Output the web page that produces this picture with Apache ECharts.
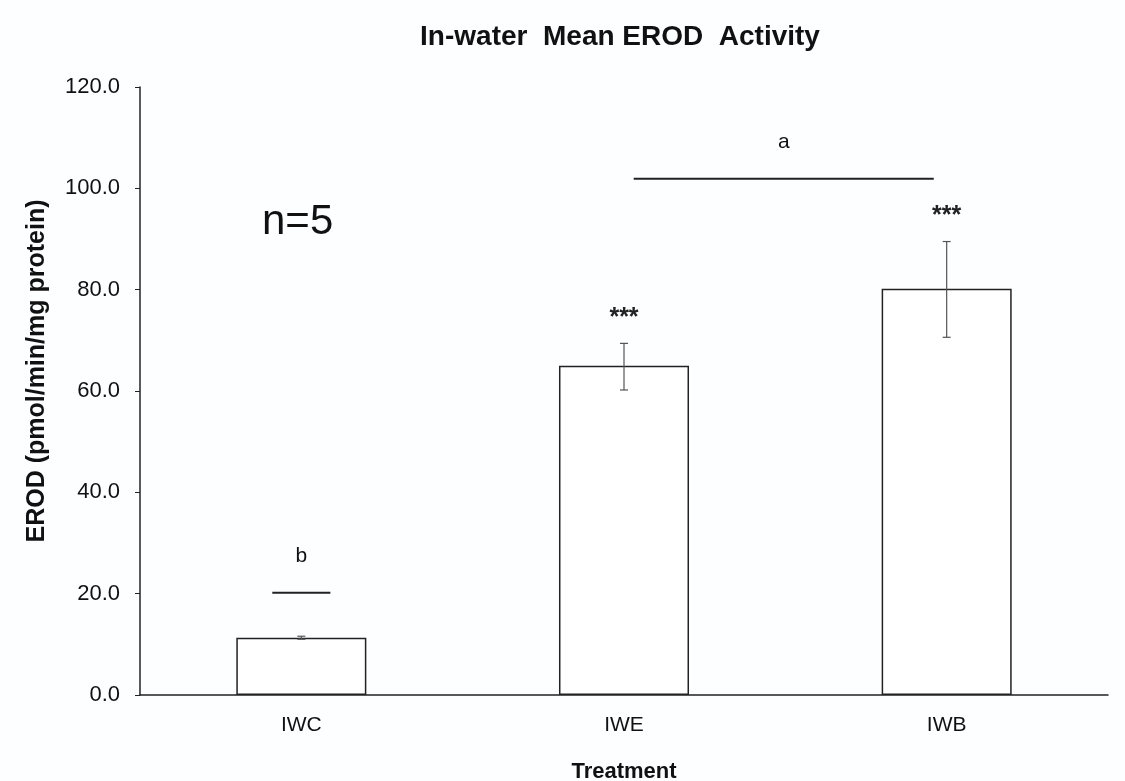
<!DOCTYPE html>
<html>
<head>
<meta charset="utf-8">
<script src="https://cdn.jsdelivr.net/npm/echarts@6/dist/echarts.min.js"></script>
<style>
  html, body { margin: 0; padding: 0; background: #fdfeff; }
  #chart { width: 1125px; height: 781px; }
</style>
</head>
<body>
<div id="chart"></div>
<script>
// data
const categories = ["IWC", "IWE", "IWB"];
const means = [11.3, 65.0, 80.2];
const errLow = [11.0, 60.2, 70.6];
const errHigh = [11.6, 69.4, 89.5];
const stars = ["", "***", "***"];
const yTicks = [0, 20, 40, 60, 80, 100, 120];

// significance groups: [from category pos, to category pos, y value, letter]
const groups = [
  [-0.09, 0.09, 20.2, "b"],
  [1.03, 1.96, 101.9, "a"]
];

const chart = echarts.init(document.getElementById("chart"));
const font = "'Liberation Sans', Arial, sans-serif";
const ink = "#222";

const option = {
  backgroundColor: "#fdfeff",
  animation: false,
  title: {
    text: "In-water  Mean EROD  Activity",
    left: 615,
    top: 18,
    textAlign: "center",
    textStyle: { fontFamily: font, fontSize: 28, fontWeight: "bold", color: "#111" }
  },
  grid: { left: 140, right: 17, top: 87, bottom: 86, outerBoundsMode: "none", containLabel: false },
  xAxis: {
    type: "category",
    data: categories,
    name: "Treatment",
    nameLocation: "middle",
    nameGap: 66,
    nameTextStyle: { fontFamily: font, fontSize: 22, fontWeight: "bold", color: "#111", verticalAlign: "top" },
    axisLine: { lineStyle: { color: ink, width: 1.5 } },
    axisTick: { show: false },
    axisLabel: { fontFamily: font, fontSize: 21, color: "#111", margin: 20 }
  },
  yAxis: {
    type: "value",
    min: yTicks[0],
    max: yTicks[yTicks.length - 1],
    interval: 20,
    name: "EROD (pmol/min/mg protein)",
    nameLocation: "middle",
    nameGap: 90,
    nameTextStyle: { fontFamily: font, fontSize: 25, fontWeight: "bold", color: "#111", padding: [0, 0, 0, 40] },
    axisLine: { show: true, lineStyle: { color: ink, width: 1.5 } },
    axisTick: { show: true, inside: false, length: 5, lineStyle: { color: ink } },
    splitLine: { show: false },
    axisLabel: {
      fontFamily: font, fontSize: 22, color: "#111", margin: 20,
      formatter: v => v.toFixed(1)
    }
  },
  series: [
    {
      type: "bar",
      data: means,
      barWidth: "40.3%",
      itemStyle: { color: "#ffffff", borderColor: ink, borderWidth: 1.5 },
      z: 2
    },
    {
      type: "custom",
      data: categories.map((c, i) => [i, errLow[i], errHigh[i]]),
      renderItem: function (params, api) {
        const lo = api.coord([api.value(0), api.value(1)]);
        const hi = api.coord([api.value(0), api.value(2)]);
        const w = 4;
        const st = { stroke: "#555", lineWidth: 1.2 };
        return {
          type: "group",
          children: [
            { type: "line", shape: { x1: hi[0], y1: hi[1], x2: lo[0], y2: lo[1] }, style: st },
            { type: "line", shape: { x1: hi[0] - w, y1: hi[1], x2: hi[0] + w, y2: hi[1] }, style: st },
            { type: "line", shape: { x1: lo[0] - w, y1: lo[1], x2: lo[0] + w, y2: lo[1] }, style: st },
            {
              type: "text",
              x: hi[0],
              y: hi[1] - 25,
              style: {
                text: stars[params.dataIndex],
                fontFamily: font, fontSize: 25, fontWeight: "bold", fill: "#222",
                align: "center", verticalAlign: "middle"
              }
            }
          ]
        };
      },
      z: 3
    },
    {
      type: "custom",
      data: groups,
      renderItem: function (params, api) {
        const band = api.size([1, 0])[0];
        const base = api.coord([0, api.value(2)]);
        const x1 = base[0] + api.value(0) * band;
        const x2 = base[0] + api.value(1) * band;
        const y = base[1];
        return {
          type: "group",
          children: [
            { type: "line", shape: { x1: x1, y1: y, x2: x2, y2: y }, style: { stroke: ink, lineWidth: 2 } },
            {
              type: "text",
              x: (x1 + x2) / 2,
              y: y - 26,
              style: {
                text: groups[params.dataIndex][3],
                fontFamily: font, fontSize: 21, fill: "#111",
                align: "center", verticalAlign: "bottom"
              }
            }
          ]
        };
      },
      z: 3
    }
  ],
  graphic: [
    {
      type: "text",
      left: 262,
      top: 201,
      style: { text: "n=5", fontFamily: font, fontSize: 42, fill: "#111" }
    }
  ]
};

chart.setOption(option);
</script>
</body>
</html>
